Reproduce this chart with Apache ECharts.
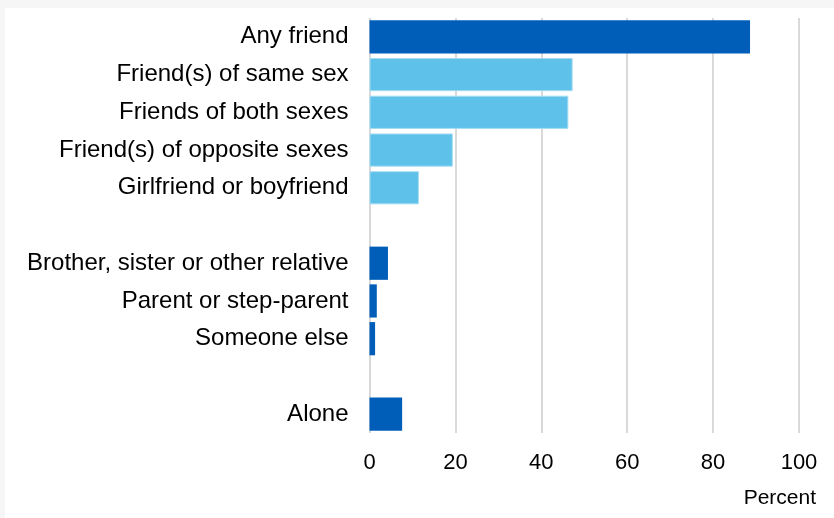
<!DOCTYPE html>
<html>
<head>
<meta charset="utf-8">
<script src="https://cdn.jsdelivr.net/npm/echarts@6/dist/echarts.min.js"></script>
<style>
html,body{margin:0;padding:0;background:#f6f6f6;}
#panel{position:absolute;left:5px;top:8px;width:829px;height:510px;background:#ffffff;}
#chart{position:absolute;left:0;top:0;width:834px;height:518px;}
</style>
</head>
<body>
<div id="panel"></div>
<div id="chart"></div>
<script>
const categories = [
  'Any friend',
  'Friend(s) of same sex',
  'Friends of both sexes',
  'Friend(s) of opposite sexes',
  'Girlfriend or boyfriend',
  '',
  'Brother, sister or other relative',
  'Parent or step-parent',
  'Someone else',
  ' ',
  'Alone'
];
const values = [88.6, 47.3, 46.3, 19.4, 11.5, null, 4.3, 1.7, 1.3, null, 7.6];
const barGroup = ['dark', 'light', 'light', 'light', 'light', null, 'dark', 'dark', 'dark', null, 'dark'];
const xTicks = [0, 20, 40, 60, 80, 100];
const axisTitle = 'Percent';

const colors = { dark: '#005EB8', light: '#5EC1EA' };
const FONT = 'Liberation Sans, Arial, sans-serif';

const chart = echarts.init(document.getElementById('chart'), null, { renderer: 'canvas' });
const data = values.map((v, i) => v === null ? null : {
  value: v,
  itemStyle: barGroup[i] === 'light'
    ? { color: colors.light, borderColor: '#a6dcf3', borderWidth: 1 }
    : { color: colors.dark }
});

chart.setOption({
  backgroundColor: 'transparent',
  animation: false,
  grid: { left: 369.5, right: 35, top: 18, bottom: 85, containLabel: false },
  xAxis: {
    type: 'value',
    min: xTicks[0],
    max: xTicks[xTicks.length - 1],
    interval: 20,
    axisLine: { show: false },
    axisTick: { show: false },
    splitLine: { show: true, lineStyle: { color: '#d9d9d9', width: 2 } },
    axisLabel: { color: '#000', fontSize: 22, fontFamily: FONT, margin: 19 }
  },
  yAxis: {
    type: 'category',
    data: categories,
    inverse: true,
    axisLine: { show: false },
    axisTick: { show: false },
    splitLine: { show: false },
    axisLabel: { color: '#000', fontSize: 24, fontFamily: FONT, margin: 21 }
  },
  graphic: [{
    type: 'text',
    right: 18,
    top: 488,
    style: { text: axisTitle, fill: '#000', font: '21px ' + FONT }
  }],
  series: [{
    type: 'bar',
    data: data,
    barCategoryGap: '12%'
  }]
});
</script>
</body>
</html>
